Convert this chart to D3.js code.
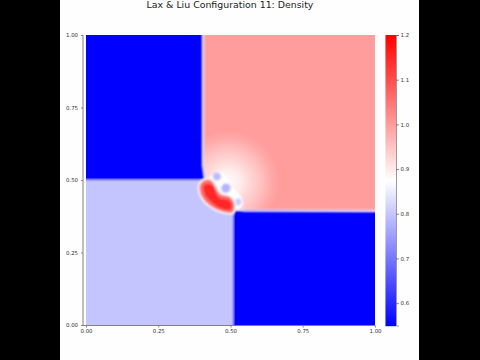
<!DOCTYPE html>
<html>
<head>
<meta charset="utf-8">
<script src="https://cdn.jsdelivr.net/npm/d3@7"></script>
<style>
  html, body { margin: 0; padding: 0; background: #000; }
  svg { display: block; }
  text { font-family: "DejaVu Sans", sans-serif; }
</style>
</head>
<body>
<script>
// Density levels (the four initial states and the blob)
const densityDomain = [0.55, 0.875, 1.2];
const densityTop = 1.0;
const densityLeftLow = 0.8;
const densityBlue = 0.5313;
const densityHalo = 0.875;
const densityRed = 1.06;
const densityCore = 1.15;

const axisTicks = [0, 0.25, 0.5, 0.75, 1];
const colorbarTicks = [0.6, 0.7, 0.8, 0.9, 1.0, 1.1, 1.2];

// Regions in data coordinates (x, y)
const lowerLeftRegion = [[-0.03, -0.03], [0.509, -0.03], [0.509, 0.4], [0.41, 0.5], [-0.03, 0.5]];
const upperLeftRegion = [[-0.03, 1.03], [0.405, 1.03], [0.405, 0.552], [0.41, 0.517], [0.412, 0.5], [-0.03, 0.5]];
const lowerRightRegion = [[0.509, -0.03], [0.509, 0.38], [0.519, 0.397], [0.55, 0.395], [1.03, 0.393], [1.03, -0.03]];

// Shock fronts, drawn in the pale density they pass through
const shockVertical = [[0.405, 1.03], [0.405, 0.552], [0.41, 0.517], [0.412, 0.5]];
const shockHorizontal = [[0.519, 0.397], [0.55, 0.395], [1.03, 0.393]];

const crescentPale = [[0.429, 0.507], [0.45, 0.528], [0.478, 0.521], [0.498, 0.483], [0.533, 0.448], [0.543, 0.414], [0.519, 0.397], [0.505, 0.438], [0.464, 0.466], [0.439, 0.5]];
const crescentRed = [[0.391, 0.483], [0.408, 0.502], [0.436, 0.5], [0.465, 0.455], [0.498, 0.445], [0.516, 0.417], [0.509, 0.386], [0.471, 0.388], [0.426, 0.41], [0.398, 0.441]];
const crescentCore = [[0.408, 0.483], [0.436, 0.483], [0.46, 0.44], [0.498, 0.428], [0.502, 0.4], [0.464, 0.403], [0.426, 0.431], [0.408, 0.459]];

// Pale blue patches on the crescent: x, y, radius, density
const paleX = [0.453, 0.484, 0.526];
const paleY = [0.512, 0.472, 0.424];
const paleR = [0.014, 0.016, 0.012];
const paleDensity = [0.79, 0.78, 0.81];

// Rarefaction fan around the blob
const fanCenter = [0.491, 0.493];
const fanRadius = 0.178;
const fanOffsets = [0, 0.25, 0.45, 0.65, 0.85, 1];
const fanDensity = [0.88, 0.9, 0.93, 0.955, 0.985, 1.0];

const width = 480, height = 360;

const x = d3.scaleLinear().domain([0, 1]).range([86, 375]);
const y = d3.scaleLinear().domain([0, 1]).range([325, 35]);
const color = d3.scaleLinear().domain(densityDomain).range(["#0000ff", "#ffffff", "#ff0000"]).clamp(true);
const barScale = d3.scaleLinear().domain([0.55, 1.2]).range([325.5, 35]);

const svg = d3.select("body").append("svg").attr("width", width).attr("height", height);
svg.append("rect").attr("x", 60).attr("width", 359).attr("height", height).attr("fill", "#fdfefd");

const defs = svg.append("defs");
defs.append("clipPath").attr("id", "plot-clip").append("rect")
  .attr("x", x(0)).attr("y", y(1)).attr("width", x(1) - x(0)).attr("height", y(0) - y(1));
defs.append("filter").attr("id", "soft").attr("x", "-10%").attr("y", "-10%").attr("width", "120%").attr("height", "120%")
  .append("feGaussianBlur").attr("stdDeviation", 1.1);
defs.append("filter").attr("id", "softer").attr("x", "-30%").attr("y", "-30%").attr("width", "160%").attr("height", "160%")
  .append("feGaussianBlur").attr("stdDeviation", 0.8);

const fanGrad = defs.append("radialGradient").attr("id", "fan");
fanGrad.selectAll("stop").data(fanOffsets).enter().append("stop")
  .attr("offset", d => d)
  .attr("stop-color", (d, i) => color(fanDensity[i]));

const outline = d3.line().x(d => x(d[0])).y(d => y(d[1]));
const smooth = d3.line().x(d => x(d[0])).y(d => y(d[1])).curve(d3.curveCatmullRomClosed);

const plot = svg.append("g").attr("clip-path", "url(#plot-clip)");
plot.append("rect")
  .attr("x", x(0)).attr("y", y(1)).attr("width", x(1) - x(0)).attr("height", y(0) - y(1))
  .attr("fill", color(densityTop));

plot.append("circle")
  .attr("cx", x(fanCenter[0])).attr("cy", y(fanCenter[1])).attr("r", x(fanRadius) - x(0))
  .attr("fill", "url(#fan)");

const regions = plot.append("g").attr("filter", "url(#soft)");
regions.append("path").attr("d", outline(lowerLeftRegion) + "Z").attr("fill", color(densityLeftLow));
regions.append("path").attr("d", outline(upperLeftRegion) + "Z").attr("fill", color(densityBlue));
regions.append("path").attr("d", outline(lowerRightRegion) + "Z").attr("fill", color(densityBlue));

const shocks = plot.append("g").attr("filter", "url(#softer)");
[shockVertical, shockHorizontal].forEach(s => {
  shocks.append("path").attr("d", outline(s)).attr("fill", "none")
    .attr("stroke", color(densityHalo)).attr("stroke-width", 2);
});

const blob = plot.append("g").attr("filter", "url(#softer)");
blob.append("path").attr("d", smooth(crescentPale)).attr("fill", color(densityHalo));
blob.selectAll("circle").data(paleX).enter().append("circle")
  .attr("cx", d => x(d))
  .attr("cy", (d, i) => y(paleY[i]))
  .attr("r", (d, i) => x(paleR[i]) - x(0))
  .attr("fill", (d, i) => color(paleDensity[i]));
blob.append("path").attr("d", smooth(crescentRed)).attr("fill", color(densityRed))
  .attr("stroke", color(densityHalo)).attr("stroke-width", 1.6);
blob.append("path").attr("d", smooth(crescentCore)).attr("fill", color(densityCore));

// Axes
const xAxis = svg.append("g").attr("transform", "translate(0,325.5)")
  .call(d3.axisBottom(x).tickValues(axisTicks).tickFormat(d3.format(".2f")).tickSize(2).tickPadding(1.5));
const yAxis = svg.append("g").attr("transform", "translate(83,0)")
  .call(d3.axisLeft(y).tickValues(axisTicks).tickFormat(d3.format(".2f")).tickSize(2).tickPadding(3));
[xAxis, yAxis].forEach(a => {
  a.select(".domain").remove();
  a.selectAll("line").attr("stroke", "#555").attr("stroke-width", 0.7);
  a.selectAll("text").attr("font-size", 5.4).attr("fill", "#333").attr("font-family", '"DejaVu Sans", sans-serif');
});
svg.append("path").attr("d", `M83,${y(1)}V325.5H375`).attr("fill", "none").attr("stroke", "#808080").attr("stroke-width", 1);

// Colorbar
const barValues = d3.range(0, barScale.range()[0] - barScale.range()[1]).map(i => barScale.invert(35 + i));
svg.append("g").selectAll("rect").data(barValues).enter().append("rect")
  .attr("x", 385.5).attr("width", 10.5)
  .attr("y", d => barScale(d)).attr("height", 1.2)
  .attr("fill", d => color(d));
const barAxis = svg.append("g").attr("transform", "translate(396,0)")
  .call(d3.axisRight(barScale).tickValues(colorbarTicks).tickFormat(d3.format(".1f")).tickSize(3).tickPadding(1.5));
barAxis.select(".domain").attr("stroke", "#808080").attr("stroke-width", 0.8);
barAxis.selectAll("line").attr("stroke", "#555").attr("stroke-width", 0.7);
barAxis.selectAll("text").attr("font-size", 5.4).attr("fill", "#333").attr("font-family", '"DejaVu Sans", sans-serif');

svg.append("text").attr("x", 230).attr("y", 8.3).attr("text-anchor", "middle")
  .attr("font-size", 9.4).attr("fill", "#222").text("Lax & Liu Configuration 11: Density");
</script>
</body>
</html>
